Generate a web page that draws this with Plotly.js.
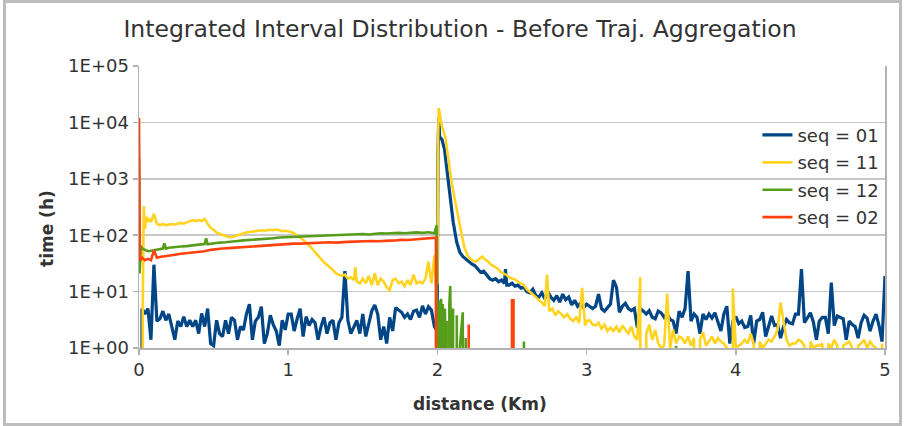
<!DOCTYPE html>
<html><head><meta charset="utf-8">
<script src="https://cdn.plot.ly/plotly-3.0.1.min.js"></script>
<style>
html,body{margin:0;padding:0;background:#fff;}
#chart{position:absolute;left:0;top:0;width:904px;height:426px;}
#frame{position:absolute;left:3px;top:0;width:899px;height:426px;box-sizing:border-box;border:3px solid #bdbdbd;pointer-events:none;}
</style></head><body>
<div id="chart"></div><div id="frame"></div>
<script>
// ---- seq = 01 ----
var seq01X = [0,0.02,0.04,0.06,0.08,0.10,0.12,0.14,0.16,0.18,0.20,0.22,0.24,0.26,0.28,0.30,0.32,0.34,0.36,0.38,
0.40,0.42,0.44,0.46,0.48,0.50,0.52,0.54,0.56,0.58,0.60,0.62,0.64,0.66,0.68,0.70,0.72,0.74,0.76,0.78,
0.80,0.82,0.84,0.86,0.88,0.90,0.92,0.94,0.96,0.98,1.00,1.02,1.04,1.06,1.08,1.10,1.12,1.14,1.16,1.18,
1.20,1.22,1.24,1.26,1.28,1.30,1.32,1.34,1.36,1.38,1.40,1.42,1.44,1.46,1.48,1.50,1.52,1.54,1.56,1.58,
1.60,1.62,1.64,1.66,1.68,1.70,1.72,1.74,1.76,1.78,1.80,1.82,1.84,1.86,1.88,1.90,1.92,1.94,1.96,1.98,
1.99,1.998,2.004,2.009,2.015,2.03,2.047,2.065,2.087,2.106,2.129,2.15,2.17,2.19,2.21,2.23,2.25,2.27,2.29,2.31,
2.33,2.35,2.37,2.39,2.41,2.43,2.45,2.456,2.465,2.48,2.50,2.52,2.54,2.56,2.58,2.60,2.62,2.64,2.66,2.68,
2.70,2.72,2.74,2.76,2.78,2.80,2.82,2.84,2.86,2.88,2.90,2.92,2.94,2.96,2.98,3.00,3.02,3.04,3.06,3.08,
3.10,3.12,3.14,3.16,3.18,3.20,3.22,3.24,3.26,3.28,3.30,3.32,3.34,3.36,3.38,3.40,3.42,3.44,3.46,3.48,
3.50,3.52,3.54,3.56,3.58,3.60,3.62,3.64,3.66,3.68,3.70,3.72,3.74,3.76,3.78,3.80,3.82,3.84,3.86,3.88,
3.90,3.92,3.94,3.96,3.98,4.00,4.02,4.04,4.06,4.08,4.10,4.12,4.14,4.16,4.18,4.20,4.22,4.24,4.26,4.28,
4.30,4.32,4.34,4.36,4.38,4.40,4.42,4.44,4.46,4.48,4.50,4.52,4.54,4.56,4.58,4.60,4.62,4.64,4.66,4.68,
4.70,4.72,4.74,4.76,4.78,4.80,4.82,4.84,4.86,4.88,4.90,4.92,4.94,4.96,4.98,5.00];
var seq01Y = [0,5,4,5,1.4,30,3,3.3,4.5,3.1,4,2.4,1.4,3,2.4,3.6,2.4,3.1,2.4,3.1,
1.8,4.1,2.4,5,1.2,1.1,3.1,1.8,1.6,3.1,1.8,3.5,3.1,1.4,2.4,2.1,4,6,1.4,3,
3.5,5.4,1.2,1.8,3.8,2.6,2,1.1,3.1,2.1,4,4,2,3.3,5,1.6,3.6,2.5,3.2,2.8,
1.4,2.4,3.5,1.8,2.8,3.1,1.4,2.8,3.5,23,3.1,1.8,2.4,3.1,1.8,4,1.6,2.8,4.5,5.8,
4,1.4,2.4,1.2,3.5,2,5.2,4.7,4.3,3.5,4,3.2,4.5,4.7,3.5,5.6,4,5.4,4.7,2.4,
2.2,2,3000,12000,5500,5000,3400,1300,500,170,76,50,42,38,33,31,29,25,22,23,
20,17,16,17,15,16,14,25,13,13,14,12.5,13,11.5,12,10,9.5,11,8.5,8,
9.5,7.5,10,8,7,8.5,6.5,9,7.2,8,5.8,7,5.5,6.2,5.2,6,5.5,5,5.5,9,
5,4.5,5.2,6,16,12,4.3,5.5,6.2,5,4.6,5,2.3,5,4.5,4,4.6,3.5,3.3,4.5,
4.2,3.5,4,3.2,3,1.8,4.5,3.5,5,23,3,4,3.5,1.8,4,3.2,4,3.4,4.2,3,
2,4,5.5,1.2,3,3.6,2.7,3,2.3,2.4,3.8,1.2,3,3.2,4.3,1.6,2.4,3.7,2.5,2.6,
1.5,2.4,3.2,2.8,2.7,4,4,25,2.8,3.5,4.2,2.9,1.4,3,3.5,3.5,1.8,14.5,2.5,3.7,
3.5,3.3,1.4,3,2.6,2.4,1.5,2.8,3.8,3.4,2,3,4,2.5,1.3,19];

// ---- seq = 11 ----
var seq11X = [0.015,0.025,0.032,0.04,0.05,0.06,0.07,0.08,0.10,0.12,0.14,0.16,0.18,0.20,0.22,0.24,0.26,0.28,0.30,
0.32,0.34,0.36,0.38,0.40,0.42,0.44,0.46,0.48,0.50,0.52,0.54,0.56,0.58,0.60,0.62,0.64,0.66,0.68,0.70,
0.72,0.74,0.76,0.78,0.80,0.82,0.84,0.86,0.88,0.90,0.92,0.94,0.96,0.98,1.00,1.02,1.04,1.06,1.08,1.10,
1.12,1.14,1.16,1.18,1.20,1.22,1.24,1.26,1.28,1.30,1.32,1.34,1.36,1.38,1.40,1.42,1.44,1.45,1.46,1.48,
1.50,1.52,1.54,1.56,1.58,1.60,1.62,1.64,1.66,1.68,1.70,1.72,1.74,1.76,1.78,1.80,1.82,1.84,1.86,1.88,
1.90,1.92,1.94,1.96,1.98,1.99,2.0,2.004,2.009,2.031,2.054,2.076,2.098,2.132,2.166,2.18,2.20,2.22,2.24,
2.26,2.28,2.30,2.32,2.34,2.36,2.38,2.40,2.42,2.44,2.46,2.48,2.50,2.52,2.54,2.56,2.58,2.60,2.62,2.64,
2.66,2.68,2.70,2.72,2.735,2.75,2.77,2.79,2.81,2.83,2.85,2.87,2.89,2.91,2.93,2.95,2.97,2.99,3.00,
3.02,3.04,3.06,3.08,3.10,3.12,3.14,3.16,3.18,3.20,3.22,3.24,3.26,3.28,3.30,3.32,3.34,3.36,3.38,3.40,
3.42,3.44,3.46,3.48,3.50,3.52,3.54,3.56,3.58,3.60,3.62,3.64,3.66,3.68,3.70,3.72,3.74,3.76,3.78,3.80,
3.82,3.84,3.86,3.88,3.90,3.92,3.94,3.96,3.98,4.00,4.02,4.04,4.06,4.08,4.10,4.12,4.14,4.16,4.18,4.20,
4.22,4.24,4.26,4.28,4.30,4.32,4.34,4.36,4.38,4.40,4.42,4.44,4.46,4.48,4.50,4.52,4.54,4.56,4.58,4.60,
4.62,4.64,4.66,4.68,4.70,4.72,4.74,4.76,4.78,4.80,4.82,4.84,4.86,4.88,4.90,4.92,4.94,4.96,4.98,5.00];
var seq11Y = [0,5,330,130,210,175,190,170,240,160,150,158,150,152,158,155,160,165,160,
168,172,185,178,185,180,195,160,135,125,112,106,100,97,93,92,96,100,104,108,
112,114,116,117,120,122,120,124,125,123,126,122,118,120,118,114,108,100,92,83,
74,66,58,50,43,37,33,30,27,24,21,20,19,20,17,18,16,27,15,14,
17,14,19,13,21,13,17,15,12,10.6,16,17,14,15,12.5,16,13,20,14,15,
14,17,34,14,44,13,14,4000,18000,8500,5300,2000,790,267,100,62,45,38,35,
34,38,42,37,34,30,28,26,23,21,20,18,17,16.5,15,14,13,11,10,9,
8,7,6.5,5.5,20,4.5,5,3.8,4.5,4,3.5,4,3.3,3,3.5,2.8,11.7,2.5,3,
3.1,2.6,2.5,2.8,2.2,2.6,2,2.3,2,2.4,1.9,2.5,2.1,1.8,2.4,1.6,1.4,18,0,1.8,
2.6,1.4,2.1,1.2,1,1.1,9.2,1,2.1,1.2,1.6,1.5,1.2,1.6,1.1,1.5,0,1.4,1.9,1.1,
1.3,1.6,1.2,1.5,1.3,1.2,1,0,11.3,1,1.1,1.2,1.4,1.2,1.8,1.2,0,1.3,1,1.2,
1.4,1.3,1.6,2.1,6.4,3,1.4,1.1,1.2,1.2,1.4,1.3,1.1,0,1.3,1,1.1,1.1,1.2,0,
1.2,1,1.4,1.1,0,1.1,1.2,1.3,1,0,1.1,1.2,1.4,1,1.3,1.1,1,0,1.2,0];

// ---- seq = 12 ----
var seq12X = [0,0.004,0.012,0.02,0.04,0.06,0.08,0.10,0.12,0.14,0.16,0.17,0.18,0.20,0.24,0.28,0.32,0.36,0.40,0.44,
0.45,0.46,0.50,0.54,0.58,0.62,0.66,0.70,0.74,0.78,0.82,0.86,0.90,0.94,0.98,1.02,1.06,1.10,1.14,1.18,
1.22,1.26,1.30,1.34,1.38,1.42,1.46,1.50,1.54,1.58,1.62,1.66,1.70,1.74,1.78,1.82,1.86,1.90,1.94,1.98,
1.995,2.0,2.008,2.015,2.02,2.025,2.03,2.036,2.042,2.05,2.056,2.062,2.07,2.08,2.086,2.092,2.10,2.105,2.112,2.13,
2.138,2.15,2.17,2.178,2.19,2.196,2.575,2.58,2.585,3.595,3.60,3.605];
var seq12Y = [2400,21,65,58,55,52,53,54,55,56,58,72,58,60,62,63,64,67,68,70,
88,69,72,74,75,78,79,81,82,84,86,87,88,91,92,93,94,95,97,96,
98,100,99,101,103,102,104,105,103,106,108,107,109,110,108,111,112,110,113,108,
150,0,1,7,0,7.5,1,6,0,5,1,3,0,6,12.5,1,0,5,0,3.8,
0,1,4.3,0,1.5,0,0,1.3,0,0,1.1,0];

// ---- seq = 02 ----
var seq02X = [0,0.006,0.02,0.04,0.06,0.08,0.10,0.12,0.14,0.16,0.20,0.24,0.28,0.32,0.36,0.40,0.44,0.48,0.52,0.56,
0.60,0.64,0.68,0.72,0.76,0.80,0.84,0.88,0.92,0.96,1.00,1.04,1.08,1.12,1.16,1.20,1.24,1.28,1.32,1.36,
1.40,1.44,1.48,1.52,1.56,1.60,1.64,1.68,1.72,1.76,1.80,1.84,1.88,1.92,1.96,1.99,1.998,2.20,2.205,2.21,
2.215,2.495,2.50,2.51,2.515];
var seq02Y = [12000,35,40,36,38,36,54,40,41,42,44,45,47,48,49,50,52,55,57,58,
59,60,62,63,64,66,66,68,68,69,70,71,71,72,73,73,74,75,74,76,
76,77,78,77,79,78,80,80,81,83,82,84,85,87,88,90,0,0,2.6,2.6,
0,0,7,7,0];

var seriesNames = ['seq = 01','seq = 11','seq = 12','seq = 02'];
var seriesColors = ['#004586','#ffd320','#579d1c','#ff420e'];
var yTickVals = [1,10,100,1000,10000,100000];
var yTickText = ['1E+00','1E+01','1E+02','1E+03','1E+04','1E+05'];
var xTickVals = [0,1,2,3,4,5];

var xs = [seq01X, seq11X, seq12X, seq02X];
var ys = [seq01Y, seq11Y, seq12Y, seq02Y];
var widths = [3.2, 2.6, 2.6, 2.6];
var FONT = 'DejaVu Sans, Liberation Sans, Arial, sans-serif';
var data = [];
for (var i = 0; i < 4; i++) {
  data.push({
    type: 'scatter', mode: 'lines', x: xs[i], y: ys[i], name: seriesNames[i],
    legendgroup: 'g' + i,
    line: {color: seriesColors[i], width: widths[i]}
  });
}
var layout = {
  width: 904, height: 426,
  margin: {l: 139, r: 19, t: 66, b: 78},
  paper_bgcolor: 'rgba(0,0,0,0)', plot_bgcolor: '#fff',
  font: {family: FONT, color: '#333', size: 18},
  title: {text: 'Integrated Interval Distribution - Before Traj. Aggregation',
          font: {family: FONT, size: 23.5, color: '#333'}, x: 460 / 904, xref: 'container', xanchor: 'center',
          y: 1 - 21 / 426, yref: 'container', yanchor: 'top'},
  xaxis: {range: [0, 5], tickvals: xTickVals, showgrid: false, zeroline: false,
          showline: true, linecolor: '#b3b3b3', linewidth: 1.5, mirror: false,
          ticks: 'outside', ticklen: 5, tickcolor: '#b3b3b3', tickwidth: 1.5,
          tickfont: {size: 18, color: '#333'}},
  yaxis: {type: 'log', range: [0, 5], tickvals: yTickVals, ticktext: yTickText,
          showgrid: true, gridcolor: '#c8c8c8', gridwidth: 1.5, zeroline: false,
          showline: true, linecolor: '#b3b3b3', linewidth: 1.5, mirror: true,
          ticks: 'outside', ticklen: 5, tickcolor: '#b3b3b3', tickwidth: 1.5,
          tickfont: {size: 18, color: '#333'}},
  showlegend: true,
  legend: {x: 0.829, xanchor: 'left', y: 0.82, yanchor: 'top', bgcolor: 'rgba(0,0,0,0)',
           font: {size: 18, color: '#333'}, tracegroupgap: 1, traceorder: 'grouped'},
  annotations: [
    {text: '<b>distance (Km)</b>', xref: 'paper', yref: 'paper', x: (480 - 139) / 746, y: -0.2, yanchor: 'middle',
     showarrow: false, font: {size: 17, color: '#333'}},
    {text: '<b>time (h)</b>', xref: 'paper', yref: 'paper', x: (35 - 139) / 746, y: (348 - 228) / 282, textangle: -90,
     showarrow: false, font: {size: 17, color: '#333'}}
  ]
};
Plotly.newPlot('chart', data, layout, {staticPlot: true});
</script></body></html>
